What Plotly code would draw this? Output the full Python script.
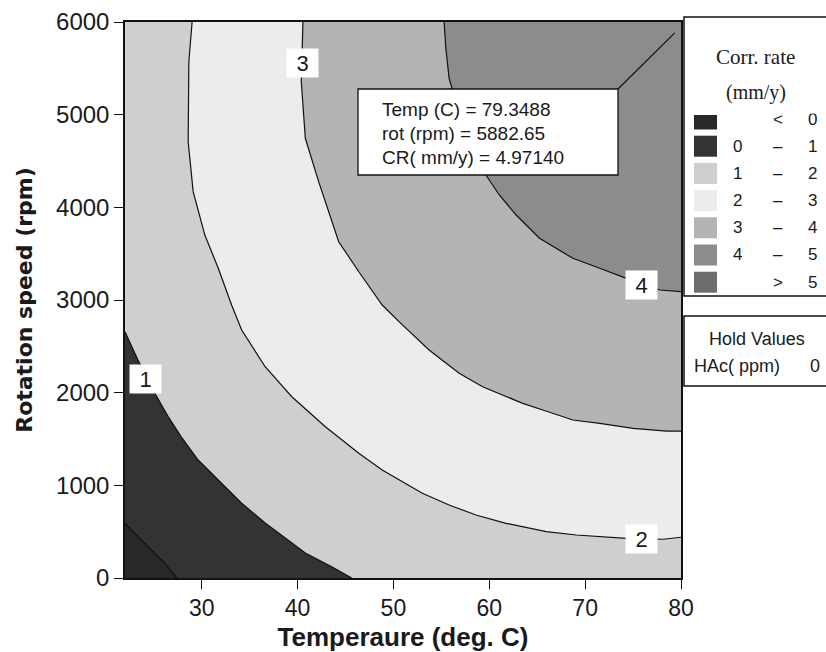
import plotly.graph_objects as go

# ---------------- data ----------------
T_MIN, T_MAX = 22, 80
R_MIN, R_MAX = 0, 6000

# contour lines (temperature deg C, rotation rpm)
c0_temp = [22.0, 23.7, 24.74, 26.15, 27.4]
c0_rot = [589, 410, 302, 159, 0]

c1_temp = [22.0, 23.35, 25.1, 26.5, 27.85, 29.63, 31.73, 34.14, 36.62, 38.71, 40.81, 43.56, 45.65]
c1_rot = [2658, 2352, 1996, 1741, 1525, 1273, 1058, 809, 594, 432, 270, 122, 0]

c2_temp = [29.0, 28.66, 28.59, 29.11, 30.33, 31.73, 33.12, 34.17, 36.62, 39.40, 42.90, 46.39,
           48.83, 50.58, 53.02, 55.81, 58.61, 61.75, 65.94, 69.08, 74.31, 78.15, 80.0]
c2_rot = [6000, 5571, 4708, 4169, 3701, 3342, 2946, 2676, 2280, 1956, 1633, 1346,
          1165, 1058, 914, 788, 680, 590, 500, 464, 428, 418, 440]

c3_temp = [40.56, 40.39, 40.81, 42.20, 44.29, 46.39, 48.83, 50.58, 53.72, 56.86, 59.30, 61.39,
           63.49, 65.58, 68.72, 71.52, 75.01, 78.50, 80.0]
c3_rot = [6000, 5356, 4745, 4277, 3629, 3305, 2946, 2766, 2460, 2209, 2064, 1975,
          1885, 1813, 1705, 1669, 1615, 1586, 1586]

c4_temp = [55.29, 55.47, 55.81, 57.07, 58.32, 59.65, 61.05, 62.80, 65.24, 68.72, 71.52, 74.31, 77.80, 80.0]
c4_rot = [6000, 5716, 5392, 4942, 4619, 4349, 4133, 3917, 3666, 3450, 3342, 3234, 3108, 3090]

contour_levels = [0, 1, 2, 3, 4]
contour_temps = [c0_temp, c1_temp, c2_temp, c3_temp, c4_temp]
contour_rots = [c0_rot, c1_rot, c2_rot, c3_rot, c4_rot]

# contour label positions
label_text = ["1", "2", "3", "4"]
label_temp = [24.13, 75.9, 40.5, 75.9]
label_rot = [2147, 417, 5558, 3157]

# band colours: <0, 0-1, 1-2, 2-3, 3-4, 4-5, >5
band_colors = ["#282828", "#333333", "#cfcfcf", "#ececec", "#b4b4b4", "#8c8c8c", "#6c6c6c"]
legend_lo = ["", "0", "1", "2", "3", "4", ""]
legend_sep = ["<", "–", "–", "–", "–", "–", ">"]
legend_hi = ["0", "1", "2", "3", "4", "5", "5"]

# queried point
query_temp = 79.3488
query_rot = 5882.65
query_cr = 4.97140
hold_name = "HAc( ppm)"
hold_value = 0

x_ticks = [30, 40, 50, 60, 70, 80]
y_ticks = [0, 1000, 2000, 3000, 4000, 5000, 6000]

# ---------------- layout geometry (pixels) ----------------
W, H = 826, 652
PL, PR, PT, PB = 125, 681, 22, 578
PW, PH = PR - PL, PB - PT
INK = "#1a1a1a"


def fx(px):
    return (px - PL) / PW


def fy(py):
    return (PB - py) / PH


fig = go.Figure()

# base band (< 0)
fig.add_trace(go.Scatter(
    x=[T_MIN, T_MAX, T_MAX, T_MIN, T_MIN], y=[R_MIN, R_MIN, R_MAX, R_MAX, R_MIN],
    mode="none", fill="toself", fillcolor=band_colors[0], hoverinfo="skip", showlegend=False))

# bands above each level: region bounded by contour line and the upper-right corner
for i, (tx, ry) in enumerate(zip(contour_temps, contour_rots)):
    xs = list(tx)
    ys = list(ry)
    if ys[-1] == R_MIN:
        xs += [T_MAX]
        ys += [R_MIN]
    xs += [T_MAX]
    ys += [R_MAX]
    if xs[0] == T_MIN:
        xs += [T_MIN]
        ys += [R_MAX]
    xs.append(xs[0])
    ys.append(ys[0])
    fig.add_trace(go.Scatter(x=xs, y=ys, mode="none", fill="toself",
                             fillcolor=band_colors[i + 1], hoverinfo="skip", showlegend=False))

# contour lines
for tx, ry in zip(contour_temps, contour_rots):
    fig.add_trace(go.Scatter(x=tx, y=ry, mode="lines",
                             line=dict(color="#111111", width=1.2),
                             hoverinfo="skip", showlegend=False))

# leader line from annotation box corner to query point
box_l, box_t, box_r, box_b = 358, 89, 618, 175
fig.add_shape(type="line", xref="paper", yref="paper", x0=fx(box_r), y0=fy(box_t),
              x1=fx(PL + (query_temp - T_MIN) / (T_MAX - T_MIN) * PW),
              y1=fy(PB - (query_rot - R_MIN) / (R_MAX - R_MIN) * PH),
              line=dict(color="#111111", width=1.2))

annotations = []
# contour labels
for t, x, y in zip(label_text, label_temp, label_rot):
    annotations.append(dict(x=x, y=y, xref="x", yref="y", text=t, showarrow=False,
                            xanchor="center", yanchor="middle",
                            font=dict(family="Liberation Sans", size=22, color=INK),
                            bgcolor="white", borderpad=2, width=27, height=24))

# query annotation box
fig.add_shape(type="rect", xref="paper", yref="paper", x0=fx(box_l), x1=fx(box_r),
              y0=fy(box_b), y1=fy(box_t), fillcolor="white",
              line=dict(color="#111111", width=1.3), layer="above")
q_lines = [f"Temp (C) = {query_temp:.4f}", f"rot (rpm) = {query_rot:.2f}",
           f"CR( mm/y) = {query_cr:.5f}"]
for k, s in enumerate(q_lines):
    annotations.append(dict(x=fx(box_l + 22), y=fy(box_t + 20 + 24 * k), xref="paper", yref="paper",
                            text=s, showarrow=False, xanchor="left", yanchor="middle",
                            font=dict(family="Liberation Sans", size=19, color=INK)))

# legend panel
LG_L, LG_T, LG_B = 684, 17, 296
fig.add_shape(type="rect", xref="paper", yref="paper", x0=fx(LG_L), x1=fx(W + 5),
              y0=fy(LG_B), y1=fy(LG_T), fillcolor="white",
              line=dict(color="#111111", width=1.5))
annotations.append(dict(x=fx(755), y=fy(57), xref="paper", yref="paper", text="Corr. rate",
                        showarrow=False, xanchor="center", yanchor="middle",
                        font=dict(family="Liberation Serif", size=21, color=INK)))
annotations.append(dict(x=fx(756), y=fy(93), xref="paper", yref="paper", text="(mm/y)",
                        showarrow=False, xanchor="center", yanchor="middle",
                        font=dict(family="Liberation Serif", size=20, color=INK)))
row0 = 119
row_h = 27.2
for k, col in enumerate(band_colors):
    cy = row0 + k * row_h
    fig.add_shape(type="rect", xref="paper", yref="paper", x0=fx(694), x1=fx(717),
                  y0=fy(cy + 10.5), y1=fy(cy - 10.5) if k > 0 else fy(cy - 4),
                  fillcolor=col, line=dict(width=0))
    for txt, xp in ((legend_lo[k], 737), (legend_sep[k], 778), (legend_hi[k], 812)):
        if txt:
            annotations.append(dict(x=fx(xp), y=fy(cy), xref="paper", yref="paper", text=txt,
                                    showarrow=False, xanchor="center", yanchor="middle",
                                    font=dict(family="Liberation Sans", size=17, color=INK)))
# the first legend row is partly hidden at its top in the original panel
annotations.append(dict(x=fx(690), y=fy(114.5), xref="paper", yref="paper", text=" ",
                        showarrow=False, xanchor="left", yanchor="bottom",
                        bgcolor="white", width=130, height=7, borderpad=0,
                        font=dict(size=4)))

# hold values panel
fig.add_shape(type="rect", xref="paper", yref="paper", x0=fx(LG_L), x1=fx(W + 5),
              y0=fy(386), y1=fy(316), fillcolor="white", line=dict(color="#111111", width=1.5))
annotations.append(dict(x=fx(757), y=fy(339), xref="paper", yref="paper", text="Hold Values",
                        showarrow=False, xanchor="center", yanchor="middle",
                        font=dict(family="Liberation Sans", size=18, color=INK)))
annotations.append(dict(x=fx(692), y=fy(366), xref="paper", yref="paper", text=hold_name,
                        xanchor="left", yanchor="middle",
                        showarrow=False, font=dict(family="Liberation Sans", size=18, color=INK)))
annotations.append(dict(x=fx(815), y=fy(366), xref="paper", yref="paper", text=str(hold_value),
                        xanchor="center", yanchor="middle",
                        showarrow=False, font=dict(family="Liberation Sans", size=18, color=INK)))

fig.update_layout(
    width=W, height=H,
    margin=dict(l=PL, r=W - PR, t=PT, b=H - PB, pad=0),
    paper_bgcolor="white", plot_bgcolor="white",
    annotations=annotations,
    xaxis=dict(range=[T_MIN, T_MAX], tickvals=x_ticks, ticks="outside", ticklen=9,
               tickcolor="#111111", showline=True, linecolor="#111111", linewidth=1.5,
               mirror=True, showgrid=False, zeroline=False, automargin=False,
               tickfont=dict(family="Liberation Sans", size=23, color=INK),
               title=dict(text="Temperaure (deg. C)", standoff=13,
                          font=dict(family="Liberation Sans", size=26, color=INK,
                                    weight="bold"))),
    yaxis=dict(range=[R_MIN, R_MAX], tickvals=y_ticks, ticks="outside", ticklen=9,
               tickcolor="#111111", showline=True, linecolor="#111111", linewidth=1.5,
               mirror=True, showgrid=False, zeroline=False, automargin=False,
               tickfont=dict(family="Liberation Sans", size=24, color=INK),
               title=dict(text="Rotation speed (rpm)", standoff=17,
                          font=dict(family="DejaVu Sans", size=22, color=INK,
                                    weight="bold"))),
)

fig.write_html("out.html")
